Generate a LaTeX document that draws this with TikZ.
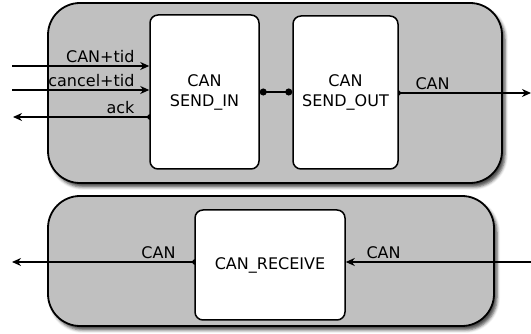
\documentclass[tikz,border=0pt]{standalone}
\usepackage{fontspec}
\setmainfont{DejaVu Sans}
\usetikzlibrary{arrows.meta,shadows.blur}
\pgfdeclarelayer{back}
\pgfdeclarelayer{mid}
\pgfsetlayers{back,mid,main}
\definecolor{blockgray}{RGB}{192,192,192}
\tikzset{
  block/.style={draw, line width=1.8pt, rounded corners=32pt, fill=blockgray,
    blur shadow={shadow xshift=3pt, shadow yshift=-4pt, shadow blur radius=3pt, shadow opacity=70}},
  unit/.style={draw, line width=1.5pt, rounded corners=8pt, fill=white, align=center},
  sig/.style={line width=1.5pt, -{Stealth[length=9pt,width=8pt]}},
  src/.style={arrows={Circle[length=5pt]-Stealth[length=9pt,width=8pt]}, shorten <=-2.5pt},
  lbl/.style={inner sep=3pt}
}

\begin{document}
\begin{tikzpicture}[x=1pt,y=1pt,font=\fontsize{16}{20}\selectfont]
  \useasboundingbox (0,0) rectangle (531,334);
  % containers
  \begin{pgfonlayer}{back}
    \node[block, minimum width=454pt, minimum height=180pt] (send) at (275,241) {};
    \node[block, minimum width=446pt, minimum height=130pt] (recv) at (271,73) {};
  \end{pgfonlayer}
  % units
  \node[unit, minimum width=109pt, minimum height=154pt] (sendin) at (204.5,242) {CAN\\SEND\_IN};
  \node[unit, minimum width=105pt, minimum height=153pt] (sendout) at (345.5,241.5) {CAN\\SEND\_OUT};
  \node[unit, minimum width=150pt, minimum height=110pt] (receive) at (270,69) {CAN\_RECEIVE};
  % free ends
  \coordinate (canin) at (12,268);
  \coordinate (cancelin) at (12,244);
  \coordinate (ackout) at (13,217);
  \coordinate (canout) at (531,241);
  \coordinate (rxout) at (12,72);
  \coordinate (rxin) at (531,72);
  % signals
  \begin{pgfonlayer}{mid}
    \draw[sig] (canin) -- (sendin.west |- canin) node[lbl, pos=1, anchor=south east, xshift=-11pt] {CAN+tid};
    \draw[sig] (cancelin) -- (sendin.west |- cancelin) node[lbl, pos=1, anchor=south east, xshift=-11pt] {cancel+tid};
    \draw[sig, src] (sendin.west |- ackout) -- (ackout) node[lbl, pos=0, anchor=south east, xshift=-11pt] {ack};
    \draw[line width=1.5pt, {Circle[length=7pt]}-{Circle[length=7pt]}] (sendin.east) -- (sendin.east -| sendout.west);
    \draw[sig, src] (sendout.east |- canout) -- (canout) node[lbl, pos=0, anchor=south west, xshift=13pt] {CAN};
    \draw[sig, src] (receive.west |- rxout) -- (rxout) node[lbl, pos=0, anchor=south east, xshift=-15pt] {CAN};
    \draw[sig] (rxin) -- (receive.east |- rxin) node[lbl, pos=1, anchor=south west, xshift=17pt] {CAN};
  \end{pgfonlayer}
\end{tikzpicture}
\end{document}
